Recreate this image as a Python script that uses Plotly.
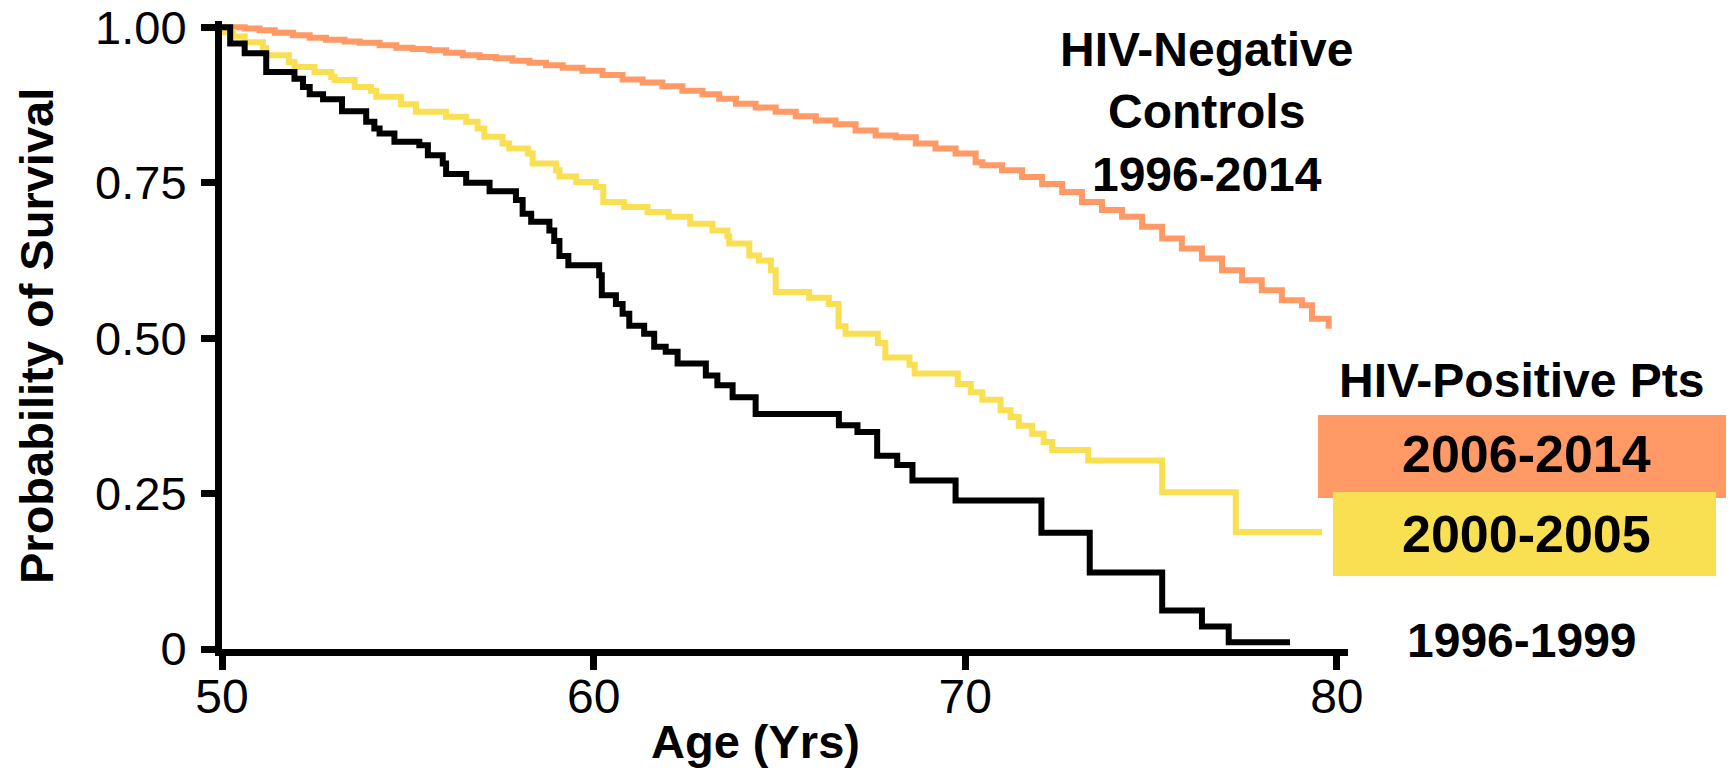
import plotly.graph_objects as go

# Kaplan-Meier style survival curves
neg_age = [50.0, 50.61, 51.01, 51.42, 51.91, 52.36, 52.80, 53.30, 53.70, 54.24, 54.69, 55.13,
           55.58, 56.03, 56.48, 56.93, 57.37, 57.82, 58.27, 58.72, 59.17, 59.70, 60.24, 60.78,
           61.32, 61.85, 62.39, 62.93, 63.38, 63.83, 64.36, 64.90, 65.44, 65.98, 66.51, 67.05,
           67.59, 68.13, 68.67, 69.20, 69.74, 70.28, 70.46, 70.99, 71.53, 72.07, 72.61, 73.14,
           73.68, 74.22, 74.76, 75.30, 75.83, 76.37, 76.91, 77.45, 77.98, 78.52, 79.06, 79.33,
           79.78]
neg_surv = [1.0, 0.998, 0.995, 0.991, 0.987, 0.983, 0.980, 0.977, 0.975, 0.971, 0.967, 0.965,
            0.963, 0.959, 0.955, 0.952, 0.950, 0.946, 0.943, 0.939, 0.935, 0.930, 0.923, 0.916,
            0.911, 0.905, 0.898, 0.892, 0.885, 0.877, 0.871, 0.864, 0.857, 0.850, 0.844, 0.834,
            0.826, 0.823, 0.813, 0.805, 0.797, 0.783, 0.778, 0.770, 0.759, 0.748, 0.735, 0.719,
            0.706, 0.695, 0.679, 0.660, 0.644, 0.628, 0.609, 0.593, 0.577, 0.561, 0.553, 0.531,
            0.515]

mid_age = [50.0, 50.30, 50.61, 51.10, 51.19, 51.80, 51.95, 52.49, 52.94, 53.03, 53.57, 54.01,
           54.15, 54.82, 55.22, 56.03, 56.57, 56.88, 57.06, 57.55, 57.73, 58.23, 58.36, 58.99,
           59.08, 59.53, 60.06, 60.26, 60.82, 61.45, 62.02, 62.60, 63.20, 63.60, 63.65, 64.19,
           64.45, 64.77, 64.90, 65.80, 66.33, 66.59, 66.78, 67.65, 67.85, 68.50, 68.64, 69.80,
           70.15, 70.46, 70.95, 71.22, 71.44, 71.80, 72.11, 72.34, 73.31, 75.30, 77.28, 79.60]
mid_surv = [0.992, 0.985, 0.976, 0.966, 0.955, 0.944, 0.936, 0.928, 0.920, 0.915, 0.904, 0.898,
            0.888, 0.876, 0.864, 0.856, 0.848, 0.837, 0.824, 0.813, 0.805, 0.797, 0.781, 0.770,
            0.760, 0.751, 0.743, 0.719, 0.711, 0.703, 0.695, 0.684, 0.673, 0.664, 0.652, 0.633,
            0.625, 0.609, 0.574, 0.565, 0.555, 0.519, 0.507, 0.492, 0.469, 0.457, 0.443, 0.426,
            0.413, 0.401, 0.384, 0.373, 0.359, 0.346, 0.333, 0.320, 0.303, 0.252, 0.188, 0.188]

early_age = [50.0, 50.22, 50.61, 51.19, 51.95, 52.18, 52.36, 52.72, 53.23, 53.88, 54.10, 54.24,
             54.64, 55.31, 55.54, 55.94, 56.03, 56.57, 57.20, 57.91, 58.09, 58.32, 58.81, 58.94,
             59.08, 59.32, 60.15, 60.22, 60.60, 60.78, 60.96, 61.36, 61.63, 61.94, 62.26, 63.02,
             63.33, 63.74, 64.36, 66.60, 67.10, 67.63, 68.17, 68.58, 69.74, 72.05, 73.35, 75.30,
             76.37, 77.09, 78.74]
early_surv = [1.0, 0.974, 0.958, 0.928, 0.917, 0.904, 0.892, 0.884, 0.865, 0.848, 0.837, 0.829,
              0.816, 0.810, 0.794, 0.781, 0.764, 0.750, 0.736, 0.722, 0.700, 0.687, 0.673, 0.656,
              0.632, 0.617, 0.601, 0.569, 0.555, 0.539, 0.520, 0.507, 0.486, 0.478, 0.459, 0.440,
              0.424, 0.405, 0.378, 0.360, 0.349, 0.311, 0.296, 0.271, 0.239, 0.187, 0.123, 0.062,
              0.036, 0.011, 0.011]

y_ticks = [0, 0.25, 0.5, 0.75, 1.0]
y_tick_text = ["0", "0.25", "0.50", "0.75", "1.00"]
x_ticks = [50, 60, 70, 80]

orange = "#FF9966"
yellow = "#F9DF52"
font = "Liberation Sans, Arial, sans-serif"

W, H = 1734, 768
ML, MR, MT, MB = 214, 394, 13, 127


# pixel position on the page -> paper coords (only for labels / boxes)
def px(X):
    return (X - ML) / (W - ML - MR)


def py(Y):
    return (H - MB - Y) / (H - MT - MB)


fig = go.Figure()
fig.add_trace(go.Scatter(x=neg_age, y=neg_surv, mode="lines", line_shape="hv",
                         line=dict(color=orange, width=6)))
fig.add_trace(go.Scatter(x=mid_age, y=mid_surv, mode="lines", line_shape="hv",
                         line=dict(color=yellow, width=6)))
fig.add_trace(go.Scatter(x=early_age, y=early_surv, mode="lines", line_shape="hv",
                         line=dict(color="black", width=6)))

fig.update_layout(
    width=W, height=H,
    margin=dict(l=ML, r=MR, t=MT, b=MB, autoexpand=False),
    plot_bgcolor="white", paper_bgcolor="white",
    showlegend=False,
    font=dict(family=font, color="black"),
)
fig.update_xaxes(range=[50, 80.3], tickvals=x_ticks, showgrid=False, zeroline=False,
                 showline=True, linecolor="black", linewidth=7, automargin=False,
                 ticks="outside", ticklen=14, tickwidth=7, tickcolor="black",
                 tickfont=dict(size=48, family=font), ticklabelstandoff=-15,
                 ticklabeloverflow="allow")
fig.update_yaxes(range=[0, 1.01], tickvals=y_ticks, ticktext=y_tick_text, showgrid=False,
                 zeroline=False, showline=True, linecolor="black", linewidth=7, automargin=False,
                 ticks="outside", ticklen=14, tickwidth=7, tickcolor="black",
                 tickfont=dict(size=47, family=font), ticklabelstandoff=5,
                 ticklabeloverflow="allow")

# coloured legend boxes (orange under yellow)
fig.add_shape(type="rect", xref="paper", yref="paper", layer="above",
              x0=px(1310), x1=px(1730), y0=py(490), y1=py(407),
              fillcolor=orange, line=dict(width=0))
fig.add_shape(type="rect", xref="paper", yref="paper", layer="above",
              x0=px(1325), x1=px(1708), y0=py(568), y1=py(484),
              fillcolor=yellow, line=dict(width=0))

labels = [
    ("Probability of Survival", 28, 328, 47, -90),
    ("Age (Yrs)", 747, 733, 47, 0),
    ("HIV-Negative<br>Controls<br>1996-2014", 1198, 104, 48, 0),
    ("HIV-Positive Pts", 1513, 372, 48, 0),
    ("2006-2014", 1518, 446, 52, 0),
    ("2000-2005", 1518, 526, 52, 0),
    ("1996-1999", 1514, 632, 48, 0),
]
for text, X, Y, size, angle in labels:
    fig.add_annotation(text=text, xref="paper", yref="paper", x=px(X), y=py(Y),
                       xanchor="center", yanchor="middle", showarrow=False,
                       textangle=angle,
                       font=dict(family=font, size=size, color="black", weight="bold"))

fig.write_html("out.html")
